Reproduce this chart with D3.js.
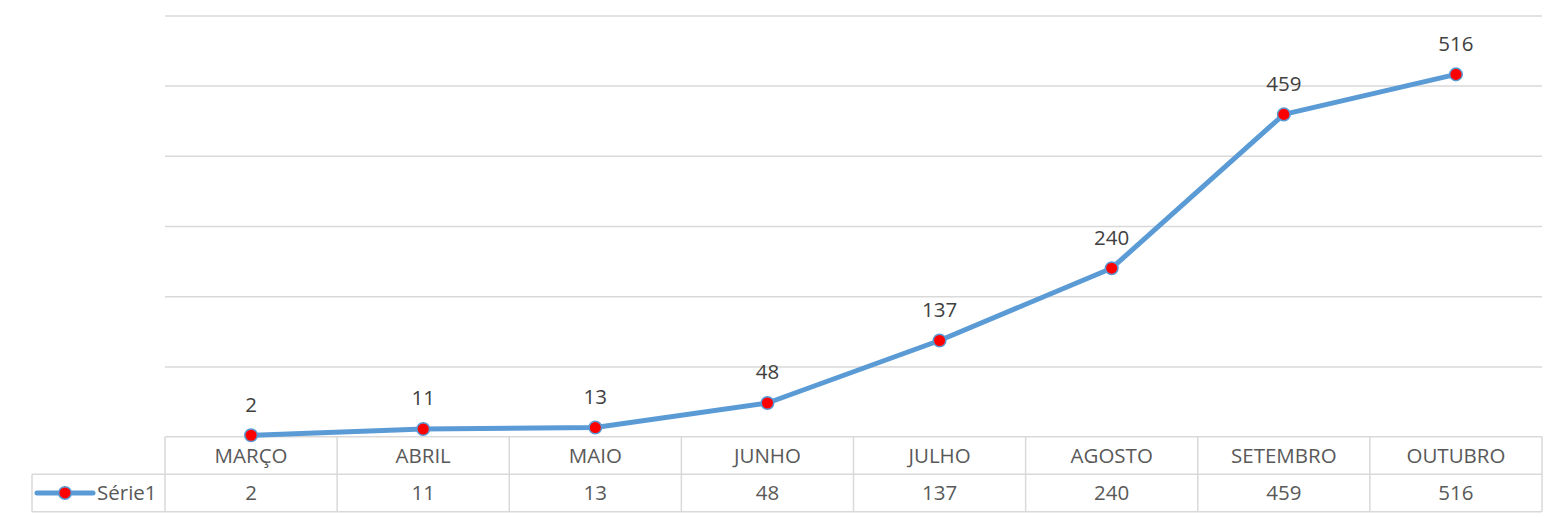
<!DOCTYPE html>
<html><head><meta charset="utf-8">
<script src="https://cdn.jsdelivr.net/npm/d3@7"></script>
<style>body{margin:0;background:#fff}svg{display:block}text{font-family:"Open Sans",sans-serif}</style>
</head><body><svg id="c" width="1551" height="517"></svg>
<script>
const categories = ["MARÇO","ABRIL","MAIO","JUNHO","JULHO","AGOSTO","SETEMBRO","OUTUBRO"];
const values = [2,11,13,48,137,240,459,516];
const seriesName = "Série1";
const yTicks = [0,100,200,300,400,500,600];

(function(){
const svg = d3.select("#c");
const pL = 165, pR = 1542, pT = 15.4, pB = 436.7;
const rowH = 37.5;
const fs = 20.5;
const x = d3.scaleBand().domain(categories).range([pL,pR]).padding(0);
const y = d3.scaleLinear().domain([0,600]).range([pB,pT]);
const grid = "#d9d9d9";
const blue = "#5b9bd5";

// gridlines
svg.append("g").attr("transform",`translate(${pL},0)`)
  .call(d3.axisLeft(y).tickValues(yTicks.filter(t=>t>0)).tickSize(-(pR-pL)).tickFormat(""))
  .call(g=>g.select(".domain").remove())
  .call(g=>g.selectAll("line").attr("stroke",grid).attr("stroke-width",1.5));

// table
const t = svg.append("g");
const r1 = pB, r2 = pB+rowH, r3 = pB+2*rowH;
const hl = (x1,x2,yy)=>t.append("line").attr("x1",x1).attr("x2",x2).attr("y1",yy).attr("y2",yy).attr("stroke",grid).attr("stroke-width",1.5);
const vl = (xx,y1,y2)=>t.append("line").attr("x1",xx).attr("x2",xx).attr("y1",y1).attr("y2",y2).attr("stroke",grid).attr("stroke-width",1.5);
hl(pL,pR,r1); hl(32,pR,r2); hl(32,pR,r3);
categories.forEach(c=>vl(x(c),r1,r3)); vl(pR,r1,r3); vl(32,r2,r3);
t.selectAll(".cat").data(categories).join("text")
  .attr("x",d=>x(d)+x.bandwidth()/2).attr("y",r1+rowH/2).attr("dy","0.35em")
  .attr("text-anchor","middle").attr("font-size",fs).attr("fill","#595959").text(d=>d);
t.selectAll(".val").data(values).join("text")
  .attr("x",(d,i)=>x(categories[i])+x.bandwidth()/2).attr("y",r2+rowH/2).attr("dy","0.35em")
  .attr("text-anchor","middle").attr("font-size",fs).attr("fill","#595959").text(d=>d);
// legend key
const ly = r2+rowH/2;
t.append("line").attr("x1",37).attr("x2",93).attr("y1",ly).attr("y2",ly).attr("stroke",blue).attr("stroke-width",5).attr("stroke-linecap","round");
t.append("circle").attr("cx",65).attr("cy",ly).attr("r",6.3).attr("fill","#ff0000").attr("stroke",blue).attr("stroke-width",1.5);
t.append("text").attr("x",97).attr("y",ly).attr("dy","0.35em").attr("font-size",fs).attr("fill","#595959").text(seriesName);

// line
const cx = (d,i)=>x(categories[i])+x.bandwidth()/2;
svg.append("path").datum(values)
  .attr("d",d3.line().x(cx).y(d=>y(d)))
  .attr("fill","none").attr("stroke",blue).attr("stroke-width",5).attr("stroke-linejoin","round").attr("stroke-linecap","round");
svg.selectAll(".pt").data(values).join("circle")
  .attr("cx",cx).attr("cy",d=>y(d)).attr("r",6.3).attr("fill","#ff0000").attr("stroke",blue).attr("stroke-width",1.5);
svg.selectAll(".lbl").data(values).join("text")
  .attr("x",cx).attr("y",d=>y(d)-23.5).attr("text-anchor","middle").attr("font-size",fs).attr("fill","#404040").text(d=>d);
})();
</script></body></html>
